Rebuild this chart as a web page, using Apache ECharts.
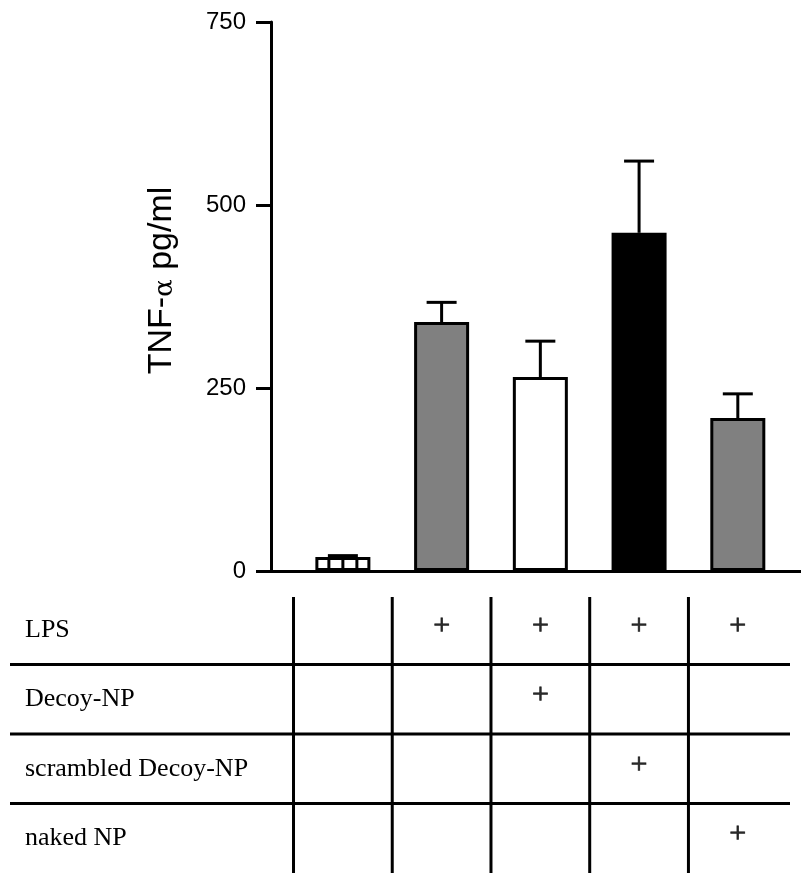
<!DOCTYPE html>
<html>
<head>
<meta charset="utf-8">
<script src="https://cdn.jsdelivr.net/npm/echarts@6/dist/echarts.min.js"></script>
<style>html,body{margin:0;padding:0;background:#fff}#c{width:801px;height:873px}</style>
</head>
<body>
<div id="c"></div>
<script>
// ---- data ----
var groups = [0, 1, 2, 3, 4];
var means = [19, 340, 265, 462, 209];
var errors = [2, 27, 49, 98, 33];
var barColors = ['#ffffff', '#808080', '#ffffff', '#000000', '#808080'];
var hatched = [true, false, false, false, false];
var yTicks = [0, 250, 500, 750];
var rowNames = ['LPS', 'Decoy-NP', 'scrambled Decoy-NP', 'naked NP'];
var rowLPS = [0, 1, 1, 1, 1];
var rowDecoy = [0, 0, 1, 0, 0];
var rowScrambled = [0, 0, 0, 1, 0];
var rowNaked = [0, 0, 0, 0, 1];
var colBoundaries = [-0.5, 0.5, 1.5, 2.5, 3.5];
var rowBoundaries = [1, 2, 3];

var rowFlags = [rowLPS, rowDecoy, rowScrambled, rowNaked];
var plusData = [];
rowFlags.forEach(function (flags, r) {
  flags.forEach(function (f, i) { if (f) plusData.push([groups[i], rowNames[r]]); });
});

var XMIN = -0.728, XMAX = 4.64;
var chart = echarts.init(document.getElementById('c'), null, {renderer: 'canvas'});
var option = {
  animation: false,
  grid: [
    {left: 271, top: 22, width: 530, height: 549},
    {left: 271, top: 595, width: 530, height: 280}
  ],
  xAxis: [
    {type: 'value', gridIndex: 0, min: XMIN, max: XMAX,
     axisLine: {show: true, onZero: false, lineStyle: {color: '#000', width: 3}},
     axisTick: {show: false}, axisLabel: {show: false}, splitLine: {show: false}},
    {type: 'value', gridIndex: 1, min: XMIN, max: XMAX, show: false}
  ],
  yAxis: [
    {type: 'value', gridIndex: 0, min: yTicks[0], max: yTicks[yTicks.length - 1], interval: 250,
     axisLine: {show: true, onZero: false, lineStyle: {color: '#000', width: 3}},
     axisTick: {show: true, length: 15, lineStyle: {color: '#000', width: 3}},
     axisLabel: {margin: 25, color: '#000', fontSize: 24, fontFamily: 'Liberation Sans'},
     splitLine: {show: false},
     name: '{a|TNF-}{b|α}{a| pg/ml}', nameLocation: 'middle', nameGap: 92,
     nameTextStyle: {padding: [0, 0, 0, 32],
       rich: {a: {fontSize: 34, fontFamily: 'Liberation Sans', color: '#000'},
              b: {fontSize: 26, fontFamily: 'DejaVu Serif', color: '#000', padding: [6, 0, 0, 0]}}}},
    {type: 'category', gridIndex: 1, inverse: true, data: rowNames,
     axisLine: {show: false}, axisTick: {show: false}, splitLine: {show: false},
     axisLabel: {align: 'left', margin: 246, color: '#000', fontSize: 26,
                 fontFamily: 'Liberation Serif', padding: [0, 0, 10, 0]}}
  ],
  series: [
    {type: 'bar', xAxisIndex: 0, yAxisIndex: 0, barWidth: 55,
     data: groups.map(function (g, i) {
       return {value: [g, means[i]], itemStyle: {color: barColors[i], borderColor: '#000', borderWidth: 3}};
     }), z: 2},
    {type: 'custom', xAxisIndex: 0, yAxisIndex: 0, z: 3,
     data: groups.map(function (g, i) { return [g, means[i], hatched[i] ? 1 : 0]; }),
     renderItem: function (params, api) {
       if (!api.value(2)) return null;
       var top = api.coord([api.value(0), api.value(1)]);
       var bot = api.coord([api.value(0), 0]);
       var children = [-14, 0, 14].map(function (dx) {
         return {type: 'line', shape: {x1: top[0] + dx, y1: top[1], x2: top[0] + dx, y2: bot[1]},
                 style: {stroke: '#000', lineWidth: 3}};
       });
       return {type: 'group', children: children};
     }},
    {type: 'custom', xAxisIndex: 0, yAxisIndex: 0, z: 4,
     data: groups.map(function (g, i) { return [g, means[i], errors[i]]; }),
     renderItem: function (params, api) {
       var x = api.value(0), m = api.value(1), e = api.value(2);
       var p0 = api.coord([x, m]);
       var p1 = api.coord([x, m + e]);
       return {type: 'group', children: [
         {type: 'line', shape: {x1: p0[0], y1: p0[1], x2: p1[0], y2: p1[1]}, style: {stroke: '#000', lineWidth: 3}},
         {type: 'line', shape: {x1: p1[0] - 15, y1: p1[1], x2: p1[0] + 15, y2: p1[1]}, style: {stroke: '#000', lineWidth: 3}}
       ]};
     }},
    {type: 'custom', xAxisIndex: 1, yAxisIndex: 1, clip: false,
     data: colBoundaries.map(function (b) { return [b, 0]; }),
     renderItem: function (params, api) {
       var cs = params.coordSys;
       var p = api.coord([api.value(0), 0]);
       return {type: 'line', shape: {x1: p[0], y1: cs.y + 2, x2: p[0], y2: cs.y + cs.height},
               style: {stroke: '#000', lineWidth: 3}};
     }},
    {type: 'custom', xAxisIndex: 1, yAxisIndex: 1, clip: false,
     data: rowBoundaries.map(function (b) { return [0, b]; }),
     renderItem: function (params, api) {
       var cs = params.coordSys;
       var y = cs.y + cs.height * api.value(1) / rowNames.length;
       return {type: 'line', shape: {x1: 10, y1: y, x2: 790, y2: y},
               style: {stroke: '#000', lineWidth: 3}};
     }},
    {type: 'scatter', xAxisIndex: 1, yAxisIndex: 1, symbolSize: 1,
     itemStyle: {color: 'rgba(0,0,0,0)'}, data: plusData,
     label: {show: true, position: 'inside', formatter: '+', offset: [0, -4],
             color: '#000', fontSize: 30, fontFamily: 'Liberation Serif',
             textBorderColor: '#000', textBorderWidth: 0.8}}
  ]
};
chart.setOption(option);
</script>
</body>
</html>
